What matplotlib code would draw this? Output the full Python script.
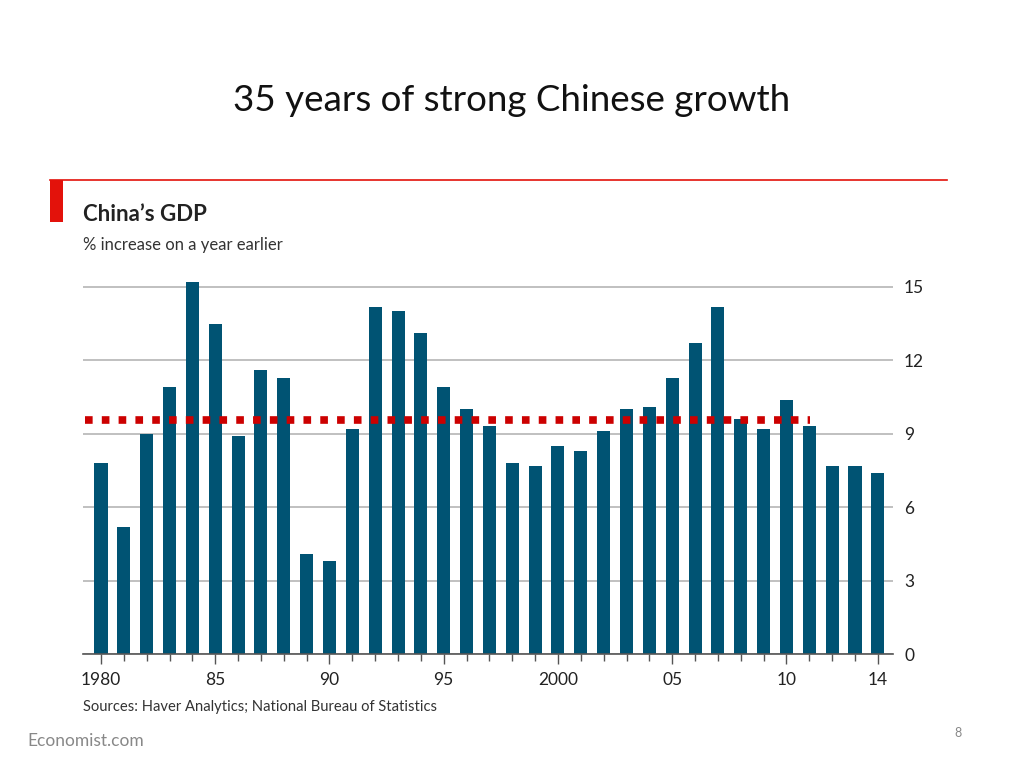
import numpy as np
import matplotlib.pyplot as plt

years = np.arange(1980, 2015)
growth = [7.8, 5.2, 9.0, 10.9, 15.2, 13.5, 8.9, 11.6, 11.3, 4.1,
          3.8, 9.2, 14.2, 14.0, 13.1, 10.9, 10.0, 9.3, 7.8, 7.7,
          8.5, 8.3, 9.1, 10.0, 10.1, 11.3, 12.7, 14.2, 9.6, 9.2,
          10.4, 9.3, 7.7, 7.7, 7.4]
avg_growth = 9.55
avg_years = [1979.3, 2011.05]

xtick_years = [1980, 1985, 1990, 1995, 2000, 2005, 2010, 2014]
xtick_labels = ["1980", "85", "90", "95", "2000", "05", "10", "14"]
yticks = [0, 3, 6, 9, 12, 15]

bar_color = "#005373"
red = "#E3120B"
font = "Lato"

fig = plt.figure(figsize=(10.24, 7.68), dpi=100)
fig.patch.set_facecolor("white")

# slide title
fig.text(0.5, 0.869, "35 years of strong Chinese growth", ha="center", va="center",
         fontsize=26.5, family=font, color="#111111")

# economist header: red rule and red tag
fig.add_artist(plt.Line2D([0.049, 0.925], [0.766, 0.766], color=red, lw=1.2))
fig.add_artist(plt.Rectangle((0.049, 0.711), 0.013, 0.055, color=red, lw=0))

fig.text(0.081, 0.721, "China\u2019s GDP", ha="left", va="center", fontsize=16,
         fontweight="bold", family=font, color="#222222")
fig.text(0.081, 0.681, "% increase on a year earlier", ha="left", va="center",
         fontsize=12, family=font, color="#333333")

ax = fig.add_axes([0.081, 0.1484, 0.791, 0.4875])
ax.bar(years, growth, width=0.57, color=bar_color, zorder=2)
ax.plot(avg_years, [avg_growth, avg_growth], color="#CC0000", lw=5.5,
        linestyle=(0, (1.0, 1.2)), zorder=3)

ax.set_xlim(1979.21, 2014.66)
ax.set_ylim(0, 15.3)

for s in ["top", "left", "right"]:
    ax.spines[s].set_visible(False)
ax.spines["bottom"].set_color("#555555")
ax.spines["bottom"].set_linewidth(1.2)

ax.yaxis.tick_right()
ax.set_yticks(yticks)
ax.set_yticklabels([str(v) for v in yticks], family=font, fontsize=12.5, color="#222222")
ax.tick_params(axis="y", length=0, pad=8)
ax.grid(axis="y", color="#BBBBBB", lw=1.3, zorder=1)

ax.set_xticks(xtick_years)
ax.set_xticklabels(xtick_labels, family=font, fontsize=12.5, color="#222222")
ax.set_xticks(years, minor=True)
ax.tick_params(axis="x", which="major", length=7, width=1, color="#555555", pad=6)
ax.tick_params(axis="x", which="minor", length=5, width=1, color="#555555")

fig.text(0.081, 0.080, "Sources: Haver Analytics; National Bureau of Statistics",
         ha="left", va="center", fontsize=10.6, family=font, color="#333333")
fig.text(0.027, 0.035, "Economist.com", ha="left", va="center", fontsize=12.5,
         family=font, color="#888888")
fig.text(0.936, 0.045, "8", ha="center", va="center", fontsize=9,
         family=font, color="#888888")

fig.savefig("out.png", dpi=100)
